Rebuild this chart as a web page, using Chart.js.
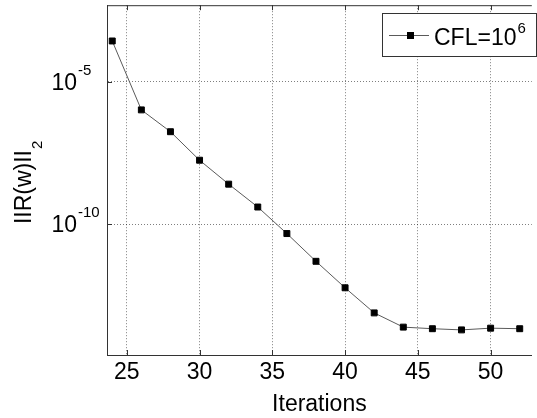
<!DOCTYPE html>
<html>
<head>
<meta charset="utf-8">
<script src="https://cdn.jsdelivr.net/npm/chart.js@4/dist/chart.umd.min.js"></script>
<style>
  body { margin: 0; background: #fff; }
  canvas { display: block; }
</style>
</head>
<body>
<canvas id="residualChart" width="537" height="418"></canvas>
<script>
"use strict";

// Values
const iterations = [24, 26, 28, 30, 32, 34, 36, 38, 40, 42, 44, 46, 48, 50, 52];
const residuals = [
  2.75e-4, 1.05e-6, 1.8e-7, 1.8e-8, 2.6e-9, 4.1e-10, 4.8e-11, 5.1e-12,
  6.0e-13, 7.9e-14, 2.5e-14, 2.2e-14, 2.0e-14, 2.3e-14, 2.2e-14,
];
const xTicks = [25, 30, 35, 40, 45, 50];
const yTicks = [1e-10, 1e-5];
const yTickExponents = ["-10", "-5"];
const legendBase = "CFL=10";
const legendExp = "6";
const yTitleMain = "IIR(w)II";
const yTitleSub = "2";

const FONT = '"Liberation Sans", Arial, Helvetica, sans-serif';

// draws the matlab-ish bits Chart.js doesn't do: top border, inward ticks,
// 10^x labels, y title with subscript, legend box
const matlabAxes = {
  id: "matlabAxes",
  afterDraw(chart) {
    const ctx = chart.ctx;
    const area = chart.chartArea;
    const xs = chart.scales.x;
    const ys = chart.scales.y;

    ctx.save();
    ctx.strokeStyle = "#333";
    ctx.lineWidth = 1;

    // top border
    ctx.beginPath();
    ctx.moveTo(area.left, area.top + 0.5);
    ctx.lineTo(area.right, area.top + 0.5);
    ctx.stroke();

    // inward tick marks
    ctx.beginPath();
    xTicks.forEach((v) => {
      const px = Math.round(xs.getPixelForValue(v)) + 0.5;
      ctx.moveTo(px, area.bottom);
      ctx.lineTo(px, area.bottom - 5);
      ctx.moveTo(px, area.top);
      ctx.lineTo(px, area.top + 5);
    });
    yTicks.forEach((v) => {
      const py = Math.round(ys.getPixelForValue(v)) + 0.5;
      ctx.moveTo(area.left, py);
      ctx.lineTo(area.left + 5, py);
    });
    ctx.stroke();

    // y tick labels 10^n
    ctx.fillStyle = "#000";
    yTicks.forEach((v, i) => {
      const py = ys.getPixelForValue(v);
      ctx.font = "23px " + FONT;
      ctx.textAlign = "right";
      ctx.textBaseline = "alphabetic";
      ctx.fillText("10", 77, py + 8);
      ctx.font = "15px " + FONT;
      ctx.textAlign = "left";
      ctx.fillText(yTickExponents[i], 78, py - 7);
    });

    // y title with subscript, rotated
    ctx.save();
    const cy = (area.top + area.bottom) / 2;
    ctx.font = "23px " + FONT;
    const wMain = ctx.measureText(yTitleMain).width;
    ctx.translate(30.5, cy + 44);
    ctx.rotate(-Math.PI / 2);
    ctx.textAlign = "left";
    ctx.textBaseline = "alphabetic";
    ctx.fillText(yTitleMain, 0, 0);
    ctx.font = "15px " + FONT;
    ctx.fillText(yTitleSub, wMain + 1, 11);
    ctx.restore();

    // legend
    const bx = 382.5, by = 13.5, bw = 154, bh = 43;
    ctx.fillStyle = "#fff";
    ctx.fillRect(bx, by, bw, bh);
    ctx.strokeRect(bx, by, bw, bh);
    const ds = chart.data.datasets[0];
    ctx.strokeStyle = ds.borderColor;
    ctx.beginPath();
    ctx.moveTo(389, 35.5);
    ctx.lineTo(429, 35.5);
    ctx.stroke();
    ctx.fillStyle = "#000";
    ctx.fillRect(407, 32, 7, 7);
    ctx.font = "23px " + FONT;
    ctx.textAlign = "left";
    ctx.fillText(legendBase, 434, 45);
    const wLeg = ctx.measureText(legendBase).width;
    ctx.font = "15px " + FONT;
    ctx.fillText(legendExp, 434 + wLeg + 1, 33);

    ctx.restore();
  },
};

const ctx = document.getElementById("residualChart").getContext("2d");

new Chart(ctx, {
  type: "line",
  data: {
    datasets: [
      {
        label: legendBase + legendExp,
        data: iterations.map((it, i) => ({ x: it, y: residuals[i] })),
        borderColor: "#5a5a5a",
        borderWidth: 1,
        pointStyle: "rect",
        pointRadius: 4.2,
        pointBorderWidth: 1,
        pointBackgroundColor: "#000",
        pointBorderColor: "#000",
        tension: 0,
      },
    ],
  },
  options: {
    responsive: false,
    devicePixelRatio: 1,
    animation: false,
    layout: { padding: { top: 5, left: 0, right: 0, bottom: 0 } },
    plugins: {
      legend: { display: false },
      tooltip: { enabled: false },
    },
    scales: {
      x: {
        type: "linear",
        min: 23.64,
        max: 52.83,
        afterBuildTicks: (scale) => {
          scale.ticks = xTicks.map((v) => ({ value: v }));
        },
        afterFit: (scale) => {
          scale.height = 63;
        },
        grid: {
          color: "rgba(0,0,0,0.5)",
          drawTicks: false,
        },
        border: { color: "#333", width: 1, dash: [1, 2] },
        ticks: {
          padding: 4,
          color: "#000",
          font: { family: FONT, size: 23 },
          maxRotation: 0,
        },
        title: {
          display: true,
          text: "Iterations",
          color: "#000",
          font: { family: FONT, size: 23 },
          padding: { top: 0, bottom: 0 },
        },
      },
      y: {
        type: "logarithmic",
        min: 2.63e-15,
        max: 4.95e-3,
        afterBuildTicks: (scale) => {
          scale.ticks = yTicks.map((v) => ({ value: v }));
        },
        afterFit: (scale) => {
          scale.width = 107;
        },
        grid: {
          color: "rgba(0,0,0,0.5)",
          drawTicks: false,
        },
        border: { color: "#333", width: 1, dash: [1, 2] },
        ticks: { display: false },
      },
    },
  },
  plugins: [matlabAxes],
});
</script>
</body>
</html>
